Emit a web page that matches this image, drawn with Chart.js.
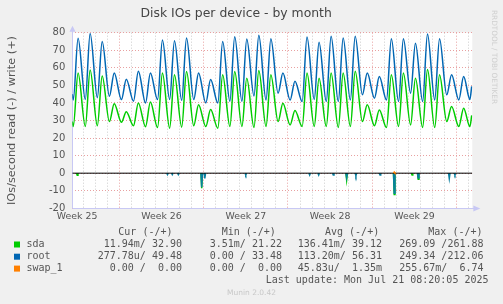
<!DOCTYPE html>
<html>
<head>
<meta charset="utf-8">
<title>Disk IOs per device - by month</title>
<script src="https://cdn.jsdelivr.net/npm/chart.js@4.4.1/dist/chart.umd.min.js"></script>
<style>
  html, body { margin: 0; padding: 0; background: #f0f0f0; overflow: hidden; }
  canvas { display: block; }
</style>
</head>
<body>
<canvas id="diskios" width="503" height="304"></canvas>
<script>
// x = days since Thu Jun 19 00:00; index 0 of the daily arrays is Wed Jun 18
// one value for the night low and one for the afternoon high of each day
const rootWriteLow  = [41.7, 42, 43, 43.8, 41.9, 41, 40, 41.9, 42, 41.5, 41.9, 40, 40, 41, 41, 44, 41.7,
                       45.5, 41.7, 40.8, 42, 40.8, 40.8, 41.7, 44.6, 42.7, 41.7, 40.8, 45.5, 40.8, 41.7, 44.6, 41.7];
const rootWriteHigh = [76.8, 79.5, 75, 57, 53.5, 58, 57, 75.8, 75.4, 77, 57, 53.3, 75, 77.7, 76.4, 78.5, 76.5,
                       57, 52.4, 77.5, 74.5, 78, 77, 78, 57, 55, 76.5, 76.5, 74, 79.3, 76.5, 56, 55];
const sdaWriteLow   = [26.6, 26.6, 27, 29.4, 29, 27, 26.5, 26, 25.6, 26.2, 27, 26.6, 25.6, 26.6, 26.6, 26, 26.6,
                       29.4, 27.5, 26.6, 26.6, 26.6, 26, 26.6, 29.4, 27, 26, 26.6, 27.5, 26, 26, 29.4, 26.6];
const sdaWriteHigh  = [57, 58.8, 55.4, 39.5, 35, 40, 40.5, 57, 56, 57.9, 39, 36.2, 56, 57.9, 54, 58.4, 56,
                       39.8, 35.7, 57, 54, 57, 57, 58, 39, 36, 56, 57, 54, 59, 56, 38, 37];
const rootWriteFirst = 45, rootWriteLastLow = 42, rootWriteCur = 49.48;
const sdaWriteFirst = 29.4, sdaWriteLastLow = 26.5, sdaWriteCur = 32.90;

// reads are drawn negative: short bursts only
const sdaReadAt   = [-0.49, 9.84, 21.87, 25.82, 27.3, 27.81];
const sdaReadVal  = [-1.2, -8.5, -3.8, -12.2, -1, -3.5];
const rootReadAt  = [7.0, 7.4, 7.9, 9.84, 10.1, 13.5, 18.8, 19.55, 20.76, 21.87, 22.64, 24.64, 25.82, 27.81, 30.39, 30.86];
const rootReadVal = [-0.8, -0.8, -0.8, -8, -3, -1, -1, -1, -1, -2.5, -1.5, -1, -11.5, -2.8, -3, -1];
const swapWriteAt  = [25.82];
const swapWriteVal = [0.6];

const weekStarts = [3, 10, 17, 24, 31];
const weekLabels = ['Week 25', 'Week 26', 'Week 27', 'Week 28', 'Week 29'];

const legendNames   = ['sda', 'root', 'swap_1'];
const legendColors  = ['#00cc00', '#0066b3', '#ff8000'];
const legendHeaders = ['Cur (-/+)', 'Min (-/+)', 'Avg (-/+)', 'Max (-/+)'];
const curValues = ['11.94m/ 32.90', '277.78u/ 49.48', '0.00 /  0.00'];
const minValues = ['3.51m/ 21.22', '0.00 / 33.48', '0.00 /  0.00'];
const avgValues = ['136.41m/ 39.12', '113.20m/ 56.31', '45.83u/  1.35m'];
const maxValues = ['269.09 /261.88', '249.34 /212.06', '255.67m/  6.74'];
const lastUpdate = 'Last update: Mon Jul 21 08:20:05 2025';

const startX = -0.9, endX = 32.3, lastSampleX = 32.25;
const lowAt = 0.18, highAt = 0.58;   // time of day of the low and the high

function daily(first, lows, highs, lastLow, cur) {
    const pts = [{x: startX, y: first}];
    highs.forEach((h, i) => {
        pts.push({x: i - 1 + lowAt, y: lows[i]});
        pts.push({x: i - 1 + highAt, y: h});
    });
    pts.push({x: highs.length - 1 + lowAt - 0.08, y: lastLow});
    pts.push({x: lastSampleX, y: cur});
    return pts;
}

function bursts(at, vals) {
    const pts = [];
    at.forEach((t, i) => {
        pts.push({x: t - 0.06, y: 0}, {x: t, y: vals[i]}, {x: t + 0.06, y: 0}, {x: t + 0.06, y: null});
    });
    return pts;
}

const majorGrid = '#e8a0a0';
const minorGrid = '#cccccc';
const axisColor = '#c8c8f4';
const textColor = '#555555';

// background, axis arrows and the munin legend block
const muninFrame = {
    id: 'muninFrame',
    beforeDraw(chart) {
        const {ctx, chartArea: a} = chart;
        ctx.save();
        ctx.fillStyle = '#f0f0f0';
        ctx.fillRect(0, 0, chart.width, chart.height);
        ctx.fillStyle = '#ffffff';
        ctx.fillRect(a.left, a.top, a.right - a.left, a.bottom - a.top);
        ctx.restore();
    },
    beforeDatasetsDraw(chart) {
        const {ctx, chartArea: a} = chart;
        const lx = Math.round(a.left) + 0.5, by = Math.round(a.bottom) + 0.5;
        ctx.save();
        ctx.strokeStyle = axisColor;
        ctx.fillStyle = axisColor;
        ctx.lineWidth = 1;
        ctx.beginPath();
        ctx.moveTo(lx, by); ctx.lineTo(lx, a.top - 2);
        ctx.moveTo(lx, by); ctx.lineTo(a.right + 2, by);
        ctx.stroke();
        ctx.beginPath();
        ctx.moveTo(lx - 3, a.top - 1); ctx.lineTo(lx + 3, a.top - 1); ctx.lineTo(lx, a.top - 7);
        ctx.closePath(); ctx.fill();
        ctx.beginPath();
        ctx.moveTo(a.right + 1, by - 3); ctx.lineTo(a.right + 1, by + 3); ctx.lineTo(a.right + 8, by);
        ctx.closePath(); ctx.fill();
        ctx.restore();
    },
    afterDraw(chart) {
        const ctx = chart.ctx;
        ctx.save();
        ctx.textBaseline = 'middle';
        ctx.font = '10px "DejaVu Sans Mono"';
        ctx.fillStyle = textColor;
        const headX = [118.3, 221.7, 325, 428.3];
        const colRight = [182, 282, 382, 483.5];
        const rowY = [244.5, 256.7, 268.6];
        ctx.textAlign = 'left';
        legendHeaders.forEach((h, i) => ctx.fillText(h, headX[i], 232.3));
        legendNames.forEach((n, r) => {
            ctx.fillStyle = legendColors[r];
            ctx.fillRect(14, rowY[r] - 3, 6, 6);
            ctx.fillStyle = textColor;
            ctx.textAlign = 'left';
            ctx.fillText(n, 26.5, rowY[r]);
            ctx.textAlign = 'right';
            [curValues, minValues, avgValues, maxValues].forEach((col, c) => {
                ctx.fillText(col[r], colRight[c], rowY[r]);
            });
        });
        ctx.textAlign = 'right';
        ctx.fillText(lastUpdate, 488.5, 280.3);

        ctx.fillStyle = '#c8c8c8';
        ctx.textAlign = 'center';
        ctx.font = '7.5px "DejaVu Sans"';
        ctx.fillText('Munin 2.0.42', 251.5, 293.3);

        ctx.translate(493.5, 57);
        ctx.rotate(Math.PI / 2);
        ctx.fillStyle = '#cfcfcf';
        ctx.font = '7.3px "DejaVu Sans"';
        ctx.fillText('RRDTOOL / TOBI OETIKER', 0, 0);
        ctx.restore();
    }
};

const weekMid = weekStarts.map(w => w - 3.5);
const dayTicks = [];
for (let d = 0; d <= 32; d++) dayTicks.push(d);

const line = (label, data, color, order, extra) => Object.assign({
    label: label,
    data: data,
    borderColor: color,
    borderWidth: 1.5,
    pointRadius: 0,
    fill: false,
    order: order
}, extra || {});

new Chart(document.getElementById('diskios'), {
    type: 'line',
    data: {
        datasets: [
            line('sda write', daily(sdaWriteFirst, sdaWriteLow, sdaWriteHigh, sdaWriteLastLow, sdaWriteCur),
                 legendColors[0], 5, {cubicInterpolationMode: 'monotone'}),
            line('root write', daily(rootWriteFirst, rootWriteLow, rootWriteHigh, rootWriteLastLow, rootWriteCur),
                 legendColors[1], 4, {cubicInterpolationMode: 'monotone'}),
            line('sda read', bursts(sdaReadAt, sdaReadVal), legendColors[0], 3, {spanGaps: false}),
            line('root read', bursts(rootReadAt, rootReadVal), '#0a7fa0', 2, {spanGaps: false}),
            line('zero', [{x: startX, y: 0}, {x: endX, y: 0}], '#000000', 1, {borderWidth: 1}),
            line('swap_1 write', bursts(swapWriteAt, swapWriteVal), legendColors[2], 0, {spanGaps: false})
        ]
    },
    options: {
        responsive: false,
        animation: false,
        devicePixelRatio: 1,
        layout: { padding: { left: 0, right: 30.7, top: 0, bottom: 79.7 } },
        plugins: {
            legend: { display: false },
            tooltip: { enabled: false },
            title: {
                display: true,
                text: 'Disk IOs per device - by month',
                color: '#444444',
                font: { family: 'DejaVu Sans', size: 12.4, weight: 'normal' },
                padding: { top: 6.4, bottom: 11.4 }
            }
        },
        scales: {
            x: {
                type: 'linear',
                min: startX,
                max: endX,
                afterBuildTicks(scale) {
                    scale.ticks = dayTicks.concat(weekMid).sort((a, b) => a - b).map(v => ({value: v}));
                },
                afterFit(scale) { scale.height = 16; },
                ticks: {
                    autoSkip: false,
                    maxRotation: 0,
                    padding: 2.6,
                    color: textColor,
                    font: { family: 'DejaVu Sans', size: 9.4 },
                    callback(v) {
                        const i = weekMid.indexOf(v);
                        return i >= 0 ? weekLabels[i] : '';
                    }
                },
                grid: {
                    drawTicks: false,
                    lineWidth: 1,
                    color(ctx) {
                        const v = ctx.tick.value;
                        if (weekMid.includes(v)) return 'rgba(0,0,0,0)';
                        return weekStarts.includes(v) ? majorGrid : minorGrid;
                    }
                },
                border: { display: false, dash: [1, 2] }
            },
            y: {
                min: -20,
                max: 80,
                afterFit(scale) { scale.width = 72.3; },
                ticks: {
                    stepSize: 5,
                    padding: 7,
                    color: textColor,
                    font: { family: 'DejaVu Sans', size: 10 },
                    callback(v) { return v % 10 === 0 ? String(v) : ''; }
                },
                grid: {
                    drawTicks: false,
                    lineWidth: 1,
                    color(ctx) { return ctx.tick.value % 10 === 0 ? majorGrid : minorGrid; }
                },
                border: { display: false, dash: [1, 2] },
                title: {
                    display: true,
                    text: 'IOs/second read (-) / write (+)',
                    color: textColor,
                    font: { family: 'DejaVu Sans', size: 11.3 },
                    padding: { top: 5, bottom: 0 }
                }
            }
        }
    },
    plugins: [muninFrame]
});
</script>
</body>
</html>
